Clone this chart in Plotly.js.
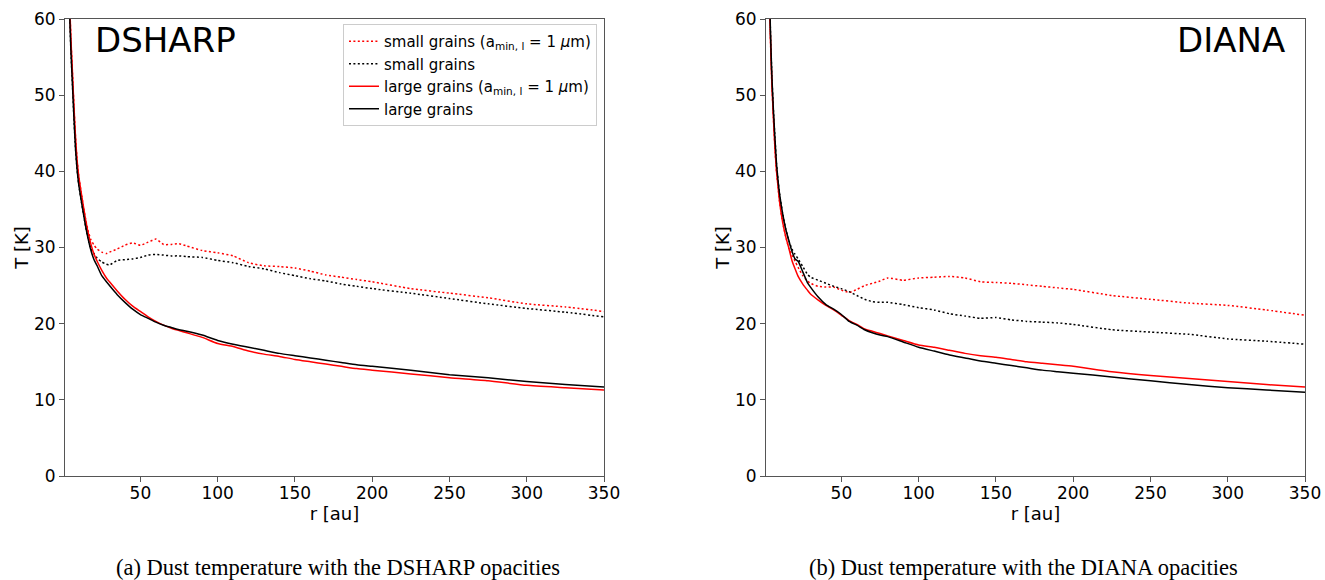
<!DOCTYPE html>
<html>
<head>
<meta charset="utf-8">
<script src="https://cdn.plot.ly/plotly-3.0.1.min.js"></script>
<style>html,body{margin:0;padding:0;background:#fff;}#chart{width:1325px;height:580px;}</style>
</head>
<body>
<div id="chart"></div>
<script>
// radius grid [au]
const rGrid = [3,4,5,6,7,8,9,10,12,14,16,18,20,22,25,28,30,35,40,45,50,55,60,65,70,75,80,90,100,110,120,130,140,150,160,170,180,190,200,225,250,275,300,325,350];

// DSHARP panel
const dsharpSmallMin1 = [72,63.5,57.5,53,48.5,44.5,41.5,39.5,36.8,34.3,32.3,31.0,30.3,29.8,29.4,29.2,29.4,29.8,30.3,30.6,30.3,30.7,31.1,30.4,30.4,30.5,30.2,29.6,29.3,28.9,28.0,27.6,27.5,27.3,26.9,26.4,26.1,25.8,25.5,24.6,24.0,23.4,22.6,22.2,21.6];
const dsharpSmall     = [70,62,56,51.5,47,43,40.3,38.4,35.8,33.4,31.3,29.8,29.2,28.6,28.1,27.8,27.7,28.3,28.4,28.5,28.7,29.0,29.1,29.0,28.9,28.9,28.8,28.7,28.3,28.0,27.5,27.2,26.7,26.3,25.9,25.6,25.2,24.9,24.6,24.0,23.3,22.6,22.0,21.5,20.9];
const dsharpLargeMin1 = [72,63.5,57.5,53,48.5,44.5,41.5,39.5,36.8,34.3,32.1,30.4,29.1,28.2,27.0,26.0,25.5,24.3,23.2,22.3,21.6,20.9,20.3,19.8,19.4,19.1,18.8,18.2,17.4,17.0,16.4,16.0,15.7,15.3,15.0,14.7,14.4,14.1,13.9,13.4,12.9,12.5,11.9,11.6,11.3];
const dsharpLarge     = [70,62,56,51.5,47,43,40.3,38.4,35.8,33.4,31.3,29.6,28.4,27.6,26.3,25.5,25.0,23.8,22.8,21.9,21.2,20.7,20.2,19.8,19.5,19.2,19.0,18.5,17.8,17.3,16.9,16.5,16.1,15.8,15.5,15.2,14.9,14.6,14.4,13.9,13.3,12.9,12.4,12.0,11.7];

// DIANA panel
const dianaSmallMin1 = [68,58,51.5,47,43,40,38,36,33.3,31.4,29.9,29.0,28.2,27.4,26.3,25.6,25.3,24.9,24.8,24.8,24.4,24.1,24.5,25.0,25.3,25.6,26.0,25.7,26.0,26.1,26.2,26.0,25.5,25.4,25.3,25.1,24.9,24.7,24.5,23.7,23.2,22.7,22.4,21.8,21.1];
const dianaSmall     = [70,59,52.5,48,44.3,41,38.8,37,34.4,32.4,30.9,29.8,29.1,28.5,27.5,26.5,26.1,25.7,25.3,24.9,24.6,24.2,23.7,23.2,22.9,22.8,22.8,22.5,22.1,21.8,21.3,21.0,20.7,20.8,20.5,20.3,20.2,20.1,19.9,19.2,18.9,18.6,18.0,17.7,17.3];
const dianaLargeMin1 = [68,58,51.5,47,43,40,38,36,33.3,31.4,29.9,28.3,27.2,26.2,25.2,24.4,23.9,23.1,22.4,21.8,21.1,20.4,19.9,19.3,19.0,18.7,18.4,17.8,17.2,16.9,16.5,16.1,15.8,15.6,15.3,15.0,14.8,14.6,14.4,13.7,13.2,12.8,12.4,12.0,11.7];
const dianaLarge     = [70,59,52.5,48,44.3,41,38.8,37,34.4,32.4,30.9,29.5,28.5,28.2,26.8,25.4,24.8,23.5,22.5,21.9,21.2,20.3,19.8,19.2,18.8,18.5,18.3,17.6,16.9,16.4,15.9,15.5,15.1,14.8,14.5,14.2,13.9,13.7,13.5,13.0,12.5,12.0,11.6,11.3,11.0];

const xTicks = [50,100,150,200,250,300,350];
const yTicks = [0,10,20,30,40,50,60];
const seriesNames = [
  'small grains (a<sub>min, l</sub> = 1 <i>μ</i>m)',
  'small grains',
  'large grains (a<sub>min, l</sub> = 1 <i>μ</i>m)',
  'large grains'
];
const panelLabels = ['DSHARP','DIANA'];
const captions = ['(a) Dust temperature with the DSHARP opacities','(b) Dust temperature with the DIANA opacities'];

const W = 1325, H = 580;
const styles = [
  {color:'#ff0000', dash:'2px,2.4px'},
  {color:'#000000', dash:'2px,2.4px'},
  {color:'#ff0000', dash:'solid'},
  {color:'#000000', dash:'solid'}
];
const panels = [
  [dsharpSmallMin1, dsharpSmall, dsharpLargeMin1, dsharpLarge],
  [dianaSmallMin1, dianaSmall, dianaLargeMin1, dianaLarge]
];
const traces = [];
panels.forEach((p, pi) => {
  p.forEach((ys, si) => {
    traces.push({
      x: rGrid, y: ys, type: 'scatter', mode: 'lines',
      name: seriesNames[si],
      showlegend: pi === 0,
      xaxis: pi === 0 ? 'x' : 'x2', yaxis: pi === 0 ? 'y' : 'y2',
      line: {color: styles[si].color, dash: styles[si].dash, width: 1.5, shape: 'spline', smoothing: 0.5},
      hoverinfo: 'skip'
    });
  });
});

const tickFont = {family: 'DejaVu Sans', size: 17, color: '#000'};
function xax(domain, anchor) {
  return {
    domain: domain, anchor: anchor, range: [1.2, 350],
    tickvals: xTicks, ticktext: xTicks.map(String),
    ticks: 'outside', ticklen: 5, tickcolor: '#555', tickwidth: 1,
    ticklabelstandoff: -3,
    showline: true, linecolor: '#555', linewidth: 1, mirror: true,
    showgrid: false, zeroline: false, tickfont: tickFont,
    title: {text: 'r [au]', font: {family: 'DejaVu Sans', size: 18, color: '#000'}, standoff: 0}
  };
}
function yax(anchor) {
  return {
    domain: [1 - 476/H, 1 - 19/H], anchor: anchor, range: [0, 60],
    tickvals: yTicks, ticktext: yTicks.map(String),
    ticks: 'outside', ticklen: 5, tickcolor: '#555', tickwidth: 1,
    showline: true, linecolor: '#555', linewidth: 1, mirror: true,
    showgrid: false, zeroline: false, tickfont: tickFont,
    title: {text: 'T [K]', font: {family: 'DejaVu Sans', size: 18, color: '#000'}, standoff: 0}
  };
}

const layout = {
  width: W, height: H,
  margin: {l: 0, r: 0, t: 0, b: 0},
  paper_bgcolor: '#fff', plot_bgcolor: '#fff',
  xaxis: xax([65/W, 604/W], 'y'),
  yaxis: yax('x'),
  xaxis2: xax([766/W, 1305/W], 'y2'),
  yaxis2: yax('x2'),
  showlegend: true,
  legend: {
    x: 597/W, xanchor: 'right', y: 1 - 24/H, yanchor: 'top',
    bgcolor: '#fff', bordercolor: '#ccc', borderwidth: 1,
    font: {family: 'DejaVu Sans', size: 15, color: '#000'},
    tracegroupgap: 0
  },
  annotations: [
    {text: panelLabels[0], xref: 'paper', yref: 'paper', x: 93/W, y: 1 - 40/H, xanchor: 'left', yanchor: 'middle', showarrow: false, font: {family: 'DejaVu Sans', size: 34, color: '#000'}},
    {text: panelLabels[1], xref: 'paper', yref: 'paper', x: 1287/W, y: 1 - 40/H, xanchor: 'right', yanchor: 'middle', showarrow: false, font: {family: 'DejaVu Sans', size: 34, color: '#000'}},
    {text: captions[0], xref: 'paper', yref: 'paper', x: 338/W, y: 1 - 567/H, xanchor: 'center', yanchor: 'middle', showarrow: false, font: {family: 'Liberation Serif', size: 22.5, color: '#000'}},
    {text: captions[1], xref: 'paper', yref: 'paper', x: 1023/W, y: 1 - 567/H, xanchor: 'center', yanchor: 'middle', showarrow: false, font: {family: 'Liberation Serif', size: 22.5, color: '#000'}}
  ]
};

Plotly.newPlot('chart', traces, layout, {staticPlot: true, displayModeBar: false});
</script>
</body>
</html>
